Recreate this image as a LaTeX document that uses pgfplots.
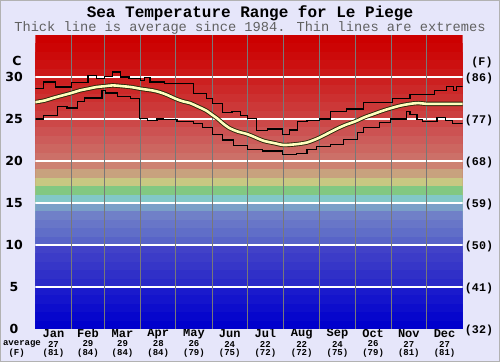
\documentclass[border=0pt]{standalone}
\usepackage{pgfplots}
\pgfplotsset{compat=1.18}
\usepackage{fontspec}
\setmainfont{DejaVu Sans}
\newfontfamily\monof{Liberation Mono}
\definecolor{bgl}{RGB}{230,230,250}
\definecolor{vgrid}{RGB}{120,120,120}
\definecolor{avgin}{RGB}{255,255,190}
\definecolor{avgout}{RGB}{40,40,10}
\definecolor{b35}{RGB}{204,0,0}
\definecolor{b34}{RGB}{204,4,4}
\definecolor{b33}{RGB}{204,10,10}
\definecolor{b32}{RGB}{204,16,16}
\definecolor{b31}{RGB}{204,24,24}
\definecolor{b30}{RGB}{204,32,32}
\definecolor{b29}{RGB}{204,40,40}
\definecolor{b28}{RGB}{204,48,48}
\definecolor{b27}{RGB}{204,56,56}
\definecolor{b26}{RGB}{204,64,64}
\definecolor{b25}{RGB}{204,72,72}
\definecolor{b24}{RGB}{204,82,82}
\definecolor{b23}{RGB}{204,92,90}
\definecolor{b22}{RGB}{204,102,96}
\definecolor{b21}{RGB}{204,112,104}
\definecolor{b20}{RGB}{205,130,114}
\definecolor{b19}{RGB}{200,162,126}
\definecolor{b18}{RGB}{200,200,130}
\definecolor{b17}{RGB}{130,200,130}
\definecolor{b16}{RGB}{130,200,200}
\definecolor{b15}{RGB}{122,160,200}
\definecolor{b14}{RGB}{112,128,200}
\definecolor{b13}{RGB}{104,118,200}
\definecolor{b12}{RGB}{96,110,200}
\definecolor{b11}{RGB}{88,100,200}
\definecolor{b10}{RGB}{66,66,200}
\definecolor{b9}{RGB}{60,60,200}
\definecolor{b8}{RGB}{54,54,200}
\definecolor{b7}{RGB}{48,48,200}
\definecolor{b6}{RGB}{42,42,200}
\definecolor{b5}{RGB}{26,26,204}
\definecolor{b4}{RGB}{20,20,204}
\definecolor{b3}{RGB}{13,13,204}
\definecolor{b2}{RGB}{6,6,204}
\definecolor{b1}{RGB}{0,0,204}
\begin{document}
\begin{tikzpicture}
\fill[bgl] (-35.3bp,-33bp) rectangle (464.7bp,329bp);
\draw[gray!60, line width=0.8bp] (-34.9bp,-32.6bp) rectangle (464.3bp,328.6bp);
\begin{axis}[
  at={(0,0)}, anchor=south west,
  scale only axis, width=427.4bp, height=294bp,
  xmin=0, xmax=365, ymin=0, ymax=35,
  axis line style={draw=none},
  major tick length=0pt, minor tick length=0pt,
  /pgf/number format/assume math mode=true,
  ytick={0,5,10,...,30},
  yticklabel style={inner sep=0pt, font=\bfseries\fontsize{12.5bp}{13bp}\selectfont, anchor=center, xshift=-21.3bp},
  xtick={15.5,45,74.5,105,135.5,166,196.5,227.5,258,288.5,319,349.5},
  xticklabels={Jan,Feb,Mar,Apr,May,Jun,Jul,Aug,Sep,Oct,Nov,Dec},
  xticklabel style={inner sep=0pt, font=\monof\bfseries\fontsize{12bp}{12bp}\selectfont, anchor=center, yshift=-4.6bp},
]
\pgfplotsinvokeforeach{35,34,...,1}{
  \addplot[draw=none, fill=b#1] coordinates {(0,#1) (365,#1)} \closedcycle;
}
% grid lines
\pgfplotsinvokeforeach{5,10,...,30}{
  \addplot[white, line width=1.5bp] coordinates {(0,#1) (365,#1)};
}
\pgfplotsinvokeforeach{31,59,90,120,151,181,212,243,273,304,334}{
  \addplot[vgrid, line width=0.7bp] coordinates {(#1,0) (#1,35)};
}
% upper extremes
\addplot[const plot, black, line width=1.2bp] coordinates {
(0,28.6)(7,29.4)(17,28.8)(31,29.3)(45,30.2)(52,29.8)(59,30.1)(66,30.6)(73,30.0)(80,29.8)(90,29.6)(93,29.9)(98,29.4)(110,29.2)(135,28.0)(146,27.4)(151,26.8)(160,25.8)(168,25.9)(175,25.4)(181,25.1)(189,23.6)(198,23.8)(211,23.2)(217,23.7)(224,24.7)(232,24.8)(243,25.0)(252,25.9)(266,26.2)(280,27.0)(305,27.4)(320,27.9)(341,28.4)(351,28.9)(357,28.4)(360,28.9)(365,28.9)
};
% lower extremes
\addplot[const plot, black, line width=1.2bp] coordinates {
(0,25.0)(7,25.4)(19,26.5)(27,26.3)(36,27.1)(42,27.5)(57,28.4)(60,28.1)(70,27.7)(81,27.4)(89,25.1)(96,24.8)(104,25.0)(109,24.9)(121,24.7)(135,24.5)(143,24.0)(151,23.2)(160,22.5)(169,21.8)(181,21.4)(194,21.2)(211,20.8)(223,20.9)(232,21.4)(240,21.7)(252,22.0)(263,22.6)(275,23.4)(280,24.0)(294,24.6)(303,25.0)(317,25.9)(320,25.5)(326,24.9)(331,24.7)(343,25.2)(350,24.8)(356,24.5)(365,24.5)
};
% average
\pgfplotstableread{
d t
0 27.0
8 27.2
15 27.5
23 27.8
31 28.1
38 28.4
45 28.6
52 28.8
59 28.9
66 29.0
75 28.9
82 28.8
90 28.6
100 28.4
106 28.2
112 27.9
120 27.4
126 27.1
132 26.9
140 26.4
146 26.0
151 25.5
156 25.0
160 24.5
166 23.9
173 23.5
181 23.2
188 22.8
195 22.4
205 22.1
212 21.9
223 22.0
232 22.2
238 22.5
243 22.8
250 23.3
257 23.8
265 24.3
273 24.7
281 25.2
289 25.6
297 26.0
304 26.3
312 26.6
320 26.8
327 26.9
334 26.8
342 26.8
350 26.8
358 26.8
365 26.8
}\avgtable
\addplot[avgout, line width=4.4bp, smooth] table[x=d,y=t] {\avgtable};
\addplot[avgin, line width=2.6bp, smooth] table[x=d,y=t] {\avgtable};
\end{axis}
% titles
\node[font=\monof\bfseries\fontsize{16bp}{16bp}\selectfont] at (214.7bp,316bp) {Sea Temperature Range for Le Piege};
\node[font=\monof\fontsize{13.7bp}{14bp}\selectfont, text=black!62] at (214.7bp,301bp) {Thick line is average since 1984. Thin lines are extremes};
% axis unit labels
\node[font=\bfseries\fontsize{12.5bp}{13bp}\selectfont] at (-18.3bp,268bp) {C};
\node[font=\monof\bfseries\fontsize{11.7bp}{12bp}\selectfont] at (446.7bp,267bp) {(F)};
\foreach \c/\f in {0/32,5/41,10/50,15/59,20/68,25/77,30/86}
  \node[font=\monof\bfseries\fontsize{11.7bp}{12bp}\selectfont] at (443.7bp,{\c*8.4bp-1.5bp}) {(\f)};
% averages row
\node[inner sep=0pt, font=\monof\bfseries\fontsize{9bp}{9bp}\selectfont] at (-13.3bp,-15bp) {average};
\node[inner sep=0pt, font=\monof\bfseries\fontsize{9bp}{9bp}\selectfont] at (-18.6bp,-24.3bp) {(F)};
\foreach \d/\c/\f in {15.5/27/81,45/29/84,74.5/29/84,105/28/84,135.5/26/79,166/24/75,196.5/22/72,227.5/22/72,258/24/75,288.5/26/79,319/27/81,349.5/27/81}{
  \node[inner sep=0pt, font=\monof\bfseries\fontsize{9bp}{9bp}\selectfont] at ({\d*1.17096bp},-15bp) {\c};
  \node[inner sep=0pt, font=\monof\bfseries\fontsize{9bp}{9bp}\selectfont] at ({\d*1.17096bp},-24.3bp) {(\f)};
}
\end{tikzpicture}
\end{document}
